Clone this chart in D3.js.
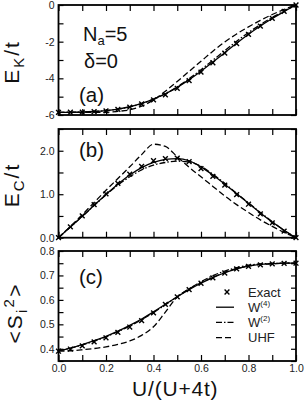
<!DOCTYPE html>
<html lang="en">
<head>
  <meta charset="UTF-8">
  <title>Na=5 energies and moments</title>
  <script src="https://d3js.org/d3.v7.min.js"></script>
  <style>
    body {
      background-color: white;
      margin: 0;
      font-family: "Liberation Sans", Arial, sans-serif;
    }
    svg {
      display: block;
    }
    .tick text {
      font-size: 10.5px;
      fill: #222;
    }
    .frame {
      fill: none;
      stroke: #000;
      stroke-width: 1.8;
    }
  </style>
</head>
<body>
<svg width="306" height="400"></svg>

<script>
  // U/(U+4t) grid used for every series
  const xs = [0, 0.05, 0.1, 0.15, 0.2, 0.25, 0.3, 0.35, 0.4, 0.45, 0.5,
              0.55, 0.6, 0.65, 0.7, 0.75, 0.8, 0.85, 0.9, 0.95, 1];

  // (a) kinetic energy E_K/t
  const ekExact = [-5.854, -5.85, -5.84, -5.82, -5.77, -5.69, -5.57, -5.40, -5.17, -4.90, -4.55,
                   -4.12, -3.66, -3.15, -2.63, -2.10, -1.60, -1.15, -0.73, -0.35, 0];
  const ekW4 = [-5.854, -5.85, -5.84, -5.81, -5.76, -5.68, -5.55, -5.37, -5.13, -4.84, -4.49,
                -4.07, -3.61, -3.11, -2.60, -2.09, -1.60, -1.15, -0.74, -0.36, 0];
  const ekW2 = [-5.854, -5.85, -5.84, -5.81, -5.76, -5.68, -5.56, -5.38, -5.14, -4.84, -4.46,
                -4.02, -3.53, -3.01, -2.49, -1.98, -1.50, -1.07, -0.68, -0.33, 0];
  const ekUHF = [-5.854, -5.854, -5.854, -5.854, -5.85, -5.80, -5.72, -5.52, -5.18, -4.70, -4.17,
                 -3.62, -3.07, -2.52, -2.02, -1.58, -1.19, -0.84, -0.52, -0.24, 0];

  // (b) correlation energy E_C/t
  const ecExact = [0, 0.25, 0.50, 0.76, 1.01, 1.25, 1.46, 1.64, 1.77, 1.82, 1.83,
                   1.75, 1.59, 1.41, 1.21, 0.99, 0.77, 0.55, 0.34, 0.15, 0];
  const ecW4 = [0, 0.245, 0.49, 0.745, 0.995, 1.23, 1.44, 1.61, 1.73, 1.80, 1.82,
                1.77, 1.63, 1.44, 1.23, 1.01, 0.79, 0.57, 0.36, 0.17, 0];
  const ecW2 = [0, 0.245, 0.49, 0.74, 0.985, 1.21, 1.40, 1.56, 1.67, 1.73, 1.76,
                1.74, 1.64, 1.46, 1.25, 1.02, 0.80, 0.58, 0.37, 0.17, 0];
  const ecUHF = [0, 0.26, 0.53, 0.81, 1.09, 1.36, 1.63, 1.91, 2.15, 2.10, 1.86,
                 1.62, 1.40, 1.18, 0.96, 0.76, 0.58, 0.41, 0.26, 0.12, 0];

  // (c) local moment <S_i^2>
  const s2Exact = [0.390, 0.399, 0.412, 0.428, 0.445, 0.467, 0.489, 0.515, 0.547, 0.582, 0.612,
                   0.642, 0.668, 0.690, 0.710, 0.727, 0.737, 0.743, 0.747, 0.749, 0.750];
  const s2W4 = [0.392, 0.403, 0.417, 0.433, 0.451, 0.472, 0.496, 0.522, 0.551, 0.582, 0.613,
                0.642, 0.668, 0.691, 0.711, 0.727, 0.738, 0.745, 0.748, 0.750, 0.750];
  const s2W2 = [0.392, 0.402, 0.416, 0.431, 0.449, 0.470, 0.493, 0.519, 0.548, 0.580, 0.613,
                0.645, 0.674, 0.699, 0.718, 0.732, 0.742, 0.747, 0.749, 0.750, 0.750];
  const s2UHF = [0.390, 0.392, 0.396, 0.401, 0.408, 0.418, 0.432, 0.455, 0.490, 0.550, 0.612,
                 0.645, 0.670, 0.693, 0.712, 0.728, 0.739, 0.745, 0.748, 0.750, 0.750];

  // ticks
  const xTicks = [0, 0.1, 0.2, 0.3, 0.4, 0.5, 0.6, 0.7, 0.8, 0.9, 1];
  const xLabels = ["0.0", "", "0.2", "", "0.4", "", "0.6", "", "0.8", "", "1.0"];
  const aTicks = [-6, -5, -4, -3, -2, -1, 0];
  const aLabels = ["-6", "", "-4", "", "-2", "", "0"];
  const bTicks = [0, 0.5, 1, 1.5, 2, 2.5];
  const bLabels = ["0.0", "", "1.0", "", "2.0", ""];
  const cTicks = [0.35, 0.4, 0.45, 0.5, 0.55, 0.6, 0.65, 0.7, 0.75, 0.8];
  const cLabels = ["", "0.4", "", "0.5", "", "0.6", "", "0.7", "", "0.8"];

  const legendNames = ["Exact", "W", "W", "UHF"];
  const legendSups = ["", "(4)", "(2)", ""];

  const svg = d3.select("svg");

  const left = 58.5, right = 296;
  const x = d3.scaleLinear().domain([0, 1]).range([left, right]);

  const panels = [
    { top: 5, bottom: 115, domain: [-6, 0], ticks: aTicks, labels: aLabels,
      series: [ekExact, ekW4, ekW2, ekUHF], tag: "(a)", tagY: 102 },
    { top: 129, bottom: 237.7, domain: [0, 2.5], ticks: bTicks, labels: bLabels,
      series: [ecExact, ecW4, ecW2, ecUHF], tag: "(b)", tagY: 157 },
    { top: 251, bottom: 361, domain: [0.35, 0.8], ticks: cTicks, labels: cLabels,
      series: [s2Exact, s2W4, s2W2, s2UHF], tag: "(c)", tagY: 284 }
  ];

  const styles = [
    null,
    { dash: null },
    { dash: "6,2,1.5,2" },
    { dash: "6,3" }
  ];

  function cross(g, cx, cy, r) {
    g.append("path")
      .attr("d", `M${cx - r},${cy - r}L${cx + r},${cy + r}M${cx - r},${cy + r}L${cx + r},${cy - r}`)
      .attr("stroke", "#000")
      .attr("stroke-width", 1.4)
      .attr("fill", "none");
  }

  panels.forEach((p, i) => {
    const y = d3.scaleLinear().domain(p.domain).range([p.bottom, p.top]);
    const g = svg.append("g");

    // ticks on all four sides, pointing inwards
    g.append("g")
      .attr("transform", `translate(0,${p.bottom})`)
      .call(d3.axisBottom(x).tickValues(xTicks).tickSize(-6).tickSizeOuter(0)
        .tickPadding(4)
        .tickFormat((d, k) => i === 2 ? xLabels[k] : ""));
    g.append("g")
      .attr("transform", `translate(0,${p.top})`)
      .call(d3.axisTop(x).tickValues(xTicks).tickSize(-6).tickSizeOuter(0).tickFormat(""));
    g.append("g")
      .attr("transform", `translate(${left},0)`)
      .call(d3.axisLeft(y).tickValues(p.ticks).tickSize(-5).tickSizeOuter(0)
        .tickPadding(4)
        .tickFormat((d, k) => p.labels[k]));
    g.append("g")
      .attr("transform", `translate(${right},0)`)
      .call(d3.axisRight(y).tickValues(p.ticks).tickSize(-5).tickSizeOuter(0).tickFormat(""));

    g.selectAll(".domain").remove();
    g.selectAll(".tick line").attr("stroke", "#000").attr("stroke-width", 1.2);

    // curves
    for (let s = 1; s < 4; s++) {
      const line = d3.line()
        .x((d, k) => x(xs[k]))
        .y(d => y(d))
        .curve(d3.curveMonotoneX);
      g.append("path")
        .datum(p.series[s])
        .attr("d", line)
        .attr("fill", "none")
        .attr("stroke", "#000")
        .attr("stroke-width", 1.3)
        .attr("stroke-dasharray", styles[s].dash);
    }

    // exact points
    p.series[0].forEach((v, k) => cross(g, x(xs[k]), y(v), 2.4));

    g.append("rect")
      .attr("class", "frame")
      .attr("x", left)
      .attr("y", p.top)
      .attr("width", right - left)
      .attr("height", p.bottom - p.top);

    g.append("text")
      .attr("x", 79)
      .attr("y", p.tagY)
      .attr("font-size", 20.5)
      .attr("fill", "#111")
      .text(p.tag);
  });

  // panel (a) annotations
  const na = svg.append("text").attr("x", 83).attr("y", 41).attr("font-size", 20).attr("fill", "#111");
  na.append("tspan").text("N");
  na.append("tspan").attr("dy", 4).attr("font-size", 13).text("a");
  na.append("tspan").attr("dy", -4).text("=5");
  svg.append("text").attr("x", 84).attr("y", 68).attr("font-size", 20).attr("fill", "#111").text("δ=0");

  // y axis titles
  function yTitle(cx, cy, parts, ls) {
    const t = svg.append("text")
      .attr("transform", `translate(${cx},${cy}) rotate(-90)`)
      .attr("text-anchor", "middle")
      .attr("font-size", 21)
      .attr("letter-spacing", ls)
      .attr("fill", "#111");
    parts.forEach(([txt, dy, fs]) => {
      const ts = t.append("tspan").text(txt);
      if (dy) ts.attr("dy", dy);
      if (fs) ts.attr("font-size", fs);
    });
  }
  yTitle(19, 62, [["E"], ["K", 5, 15], ["/t", -5]], 2);
  yTitle(19, 185, [["E"], ["C", 5, 15], ["/t", -5]], 2);
  yTitle(22, 313, [["<S"], ["i", 5, 15], ["2", -13, 15], [">", 8]], 2.2);

  // x axis title
  svg.append("text")
    .attr("x", (left + right) / 2 - 2)
    .attr("y", 396)
    .attr("text-anchor", "middle")
    .attr("font-size", 21)
    .attr("letter-spacing", 0.8)
    .attr("fill", "#111")
    .text("U/(U+4t)");

  // legend in panel (c)
  const lg = svg.append("g");
  legendNames.forEach((name, k) => {
    const ly = 292 + k * 15.2;
    if (k === 0) {
      cross(lg, 227, ly, 2.4);
    } else {
      lg.append("line")
        .attr("x1", 216).attr("x2", 234)
        .attr("y1", ly).attr("y2", ly)
        .attr("stroke", "#000")
        .attr("stroke-width", 1.3)
        .attr("stroke-dasharray", styles[k].dash);
    }
    const t = lg.append("text")
      .attr("x", 248)
      .attr("y", ly + 4.5)
      .attr("font-size", 13)
      .attr("fill", "#222");
    t.append("tspan").text(name);
    if (legendSups[k]) {
      t.append("tspan").attr("dy", -6).attr("font-size", 8).text(legendSups[k]);
    }
  });
</script>

</body>
</html>
